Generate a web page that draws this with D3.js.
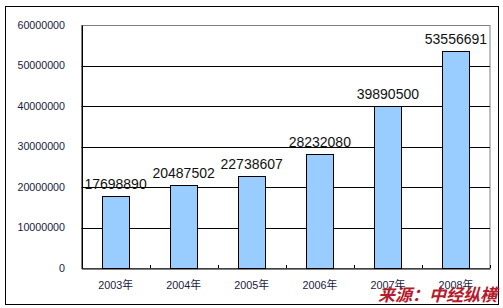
<!DOCTYPE html>
<html>
<head>
<meta charset="utf-8">
<script src="https://cdn.jsdelivr.net/npm/d3@7"></script>
<style>
  body { margin: 0; background: #fff; }
  svg { display: block; }
</style>
</head>
<body>
<div class="chart"></div>
<script>
'use strict';

var years = ['2003年', '2004年', '2005年', '2006年', '2007年', '2008年'];
var values = [17698890, 20487502, 22738607, 28232080, 39890500, 53556691];
var yTicks = [0, 10000000, 20000000, 30000000, 40000000, 50000000, 60000000];

(function () {
  var width = 503,
      height = 308;
  var plot = { left: 81.5, top: 25, right: 490, bottom: 268 };

  var svg = d3.select('.chart')
    .append('svg')
      .attr('width', width)
      .attr('height', height);

  // outer frame
  svg.append('rect')
      .attr('x', 5.5).attr('y', 6.5)
      .attr('width', 493).attr('height', 298)
      .attr('fill', '#fff')
      .attr('stroke', '#000');

  var x = d3.scaleBand()
      .domain(years)
      .range([plot.left, plot.right])
      .paddingInner(0.6)
      .paddingOuter(0.3);
  var xEdge = d3.scaleLinear()
      .domain([0, years.length])
      .range([plot.left, plot.right]);
  var y = d3.scaleLinear()
      .domain([0, 60000000])
      .range([plot.bottom, plot.top]);

  // plot area border (gray)
  svg.append('rect')
      .attr('x', plot.left).attr('y', plot.top + 0.5)
      .attr('width', plot.right - plot.left)
      .attr('height', plot.bottom - plot.top)
      .attr('fill', 'none')
      .attr('stroke', '#808080');

  // gridlines
  svg.append('g')
    .selectAll('line')
      .data(yTicks.slice(1, -1))
    .enter().append('line')
      .attr('x1', plot.left).attr('x2', plot.right)
      .attr('y1', function(d) { return Math.round(y(d)) + 0.5; })
      .attr('y2', function(d) { return Math.round(y(d)) + 0.5; })
      .attr('stroke', '#000');

  // bars
  svg.append('g')
    .selectAll('rect')
      .data(values)
    .enter().append('rect')
      .attr('x', function(d, i) { return Math.round(x(years[i])) + 0.5; })
      .attr('y', function(d) { return Math.round(y(d)) + 0.5; })
      .attr('width', Math.round(x.bandwidth()))
      .attr('height', function(d) { return Math.round(plot.bottom - y(d)); })
      .attr('fill', '#99ccff')
      .attr('stroke', '#000');

  // value labels
  svg.append('g')
    .selectAll('text')
      .data(values)
    .enter().append('text')
      .attr('x', function(d, i) { return x(years[i]) + x.bandwidth() / 2; })
      .attr('y', function(d) { return y(d) - 7; })
      .attr('text-anchor', 'middle')
      .style('font-family', 'Liberation Sans, Arial, sans-serif')
      .style('font-size', '14px')
      .style('fill', '#111')
      .text(function(d) { return d; });

  // y axis
  var yAxis = svg.append('g')
      .attr('transform', 'translate(' + (plot.left + 0.5) + ',0)')
      .call(d3.axisLeft(y).tickValues(yTicks).tickSize(0).tickPadding(17)
        .tickFormat(function(d) { return d; }));
  yAxis.select('.domain').attr('stroke', '#000');
  yAxis.selectAll('text')
      .style('font-family', 'Liberation Sans, Arial, sans-serif')
      .style('font-size', '10.7px')
      .style('fill', '#1a1a40');

  // x axis
  var xAxis = svg.append('g')
      .attr('transform', 'translate(0,' + (plot.bottom + 0.5) + ')')
      .call(d3.axisBottom(x).tickSize(0).tickPadding(13));
  xAxis.select('.domain').attr('stroke', '#000');
  xAxis.selectAll('text')
      .style('font-family', 'Liberation Sans, Arial, "Noto Sans CJK SC", sans-serif')
      .style('font-size', '10.8px')
      .style('fill', '#1a1a40');

  // inward category ticks
  svg.append('g')
    .selectAll('line')
      .data(d3.range(1, years.length + 1))
    .enter().append('line')
      .attr('x1', function(d) { return Math.round(xEdge(d)) + 0.5; })
      .attr('x2', function(d) { return Math.round(xEdge(d)) + 0.5; })
      .attr('y1', plot.bottom - 3)
      .attr('y2', plot.bottom)
      .attr('stroke', '#000');

  // source watermark
  svg.append('text')
      .attr('x', 497)
      .attr('y', 301)
      .attr('text-anchor', 'end')
      .style('font-family', '"Noto Sans CJK SC", sans-serif')
      .style('font-size', '17px')
      .style('font-weight', 'bold')
      .style('font-style', 'italic')
      .style('fill', '#b51c2c')
      .text('来源：中经纵横');
})();
</script>
</body>
</html>
